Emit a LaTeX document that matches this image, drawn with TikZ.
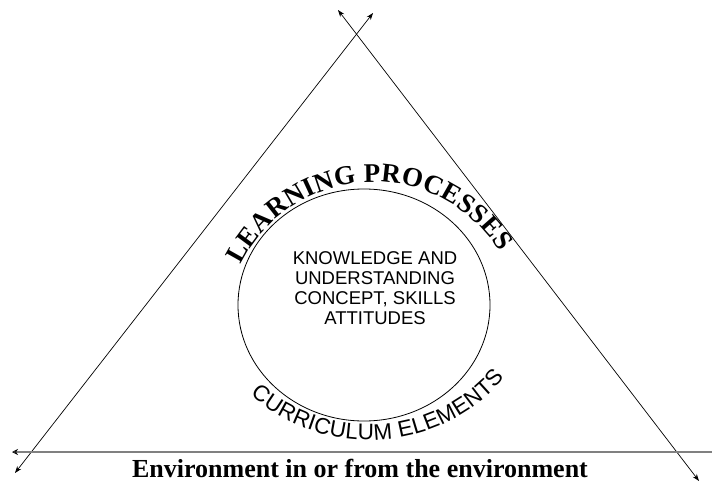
\documentclass[tikz,border=0pt]{standalone}
\usepackage{fontspec}
\setmainfont{Liberation Serif}
\setsansfont{Liberation Sans}
\usetikzlibrary{arrows.meta,decorations.text,shapes.geometric}
\begin{document}
\begin{tikzpicture}[x=1pt,y=1pt,
  sideline/.style={line width=0.7pt, black, {Stealth[length=7pt,width=5pt]}-{Stealth[length=7pt,width=5pt]}},
  groundline/.style={line width=1.4pt, black!50, {Stealth[length=6pt,width=6pt,open,black,line width=0.8pt]}-},
  core/.style={draw=black, line width=0.8pt, ellipse, minimum width=252pt, minimum height=232pt, inner sep=0pt},
  inner/.style={font=\sffamily\fontsize{18.5}{20}\selectfont, align=center, inner sep=0pt}]
\useasboundingbox (0,0) rectangle (712,483);

% two crossing sides of the triangle and the ground line
\coordinate (lowleft)  at (15,10);
\coordinate (topright) at (373,470);
\coordinate (topleft)  at (338,473);
\coordinate (lowright) at (699,2);
\coordinate (groundL)  at (12,31);
\coordinate (groundR)  at (712,31);

\draw[sideline] (lowleft) -- (topright);
\draw[sideline] (topleft) -- (lowright);
\draw[groundline] (groundL) -- (groundR);

% central element
\node[core] (core) at (364,178) {};
\node[inner] (contents) at (375,195) {KNOWLEDGE AND\\UNDERSTANDING\\CONCEPT, SKILLS\\ATTITUDES};

% curved labels around the circle
\coordinate (topc) at (374,153);
\coordinate (botc) at (369,222);
\path[decorate, decoration={text along path, text align=fit to path,
      text={|\fontsize{27}{31}\selectfont\bfseries|LEARNING PROCESSES}}]
  (topc) ++(154:148) arc[start angle=154, end angle=32, radius=148];
\path[decorate, decoration={text along path, text align=fit to path,
      text={|\sffamily\fontsize{22.5}{26}\selectfont|CURRICULUM ELEMENTS}}]
  (botc) ++(228.4:179) arc[start angle=228.4, end angle=319.3, radius=179];

\node[anchor=base, inner sep=0pt, font=\bfseries\fontsize{26}{30}\selectfont] (ground) at (360,6)
  {Environment in or from the environment};
\end{tikzpicture}
\end{document}
